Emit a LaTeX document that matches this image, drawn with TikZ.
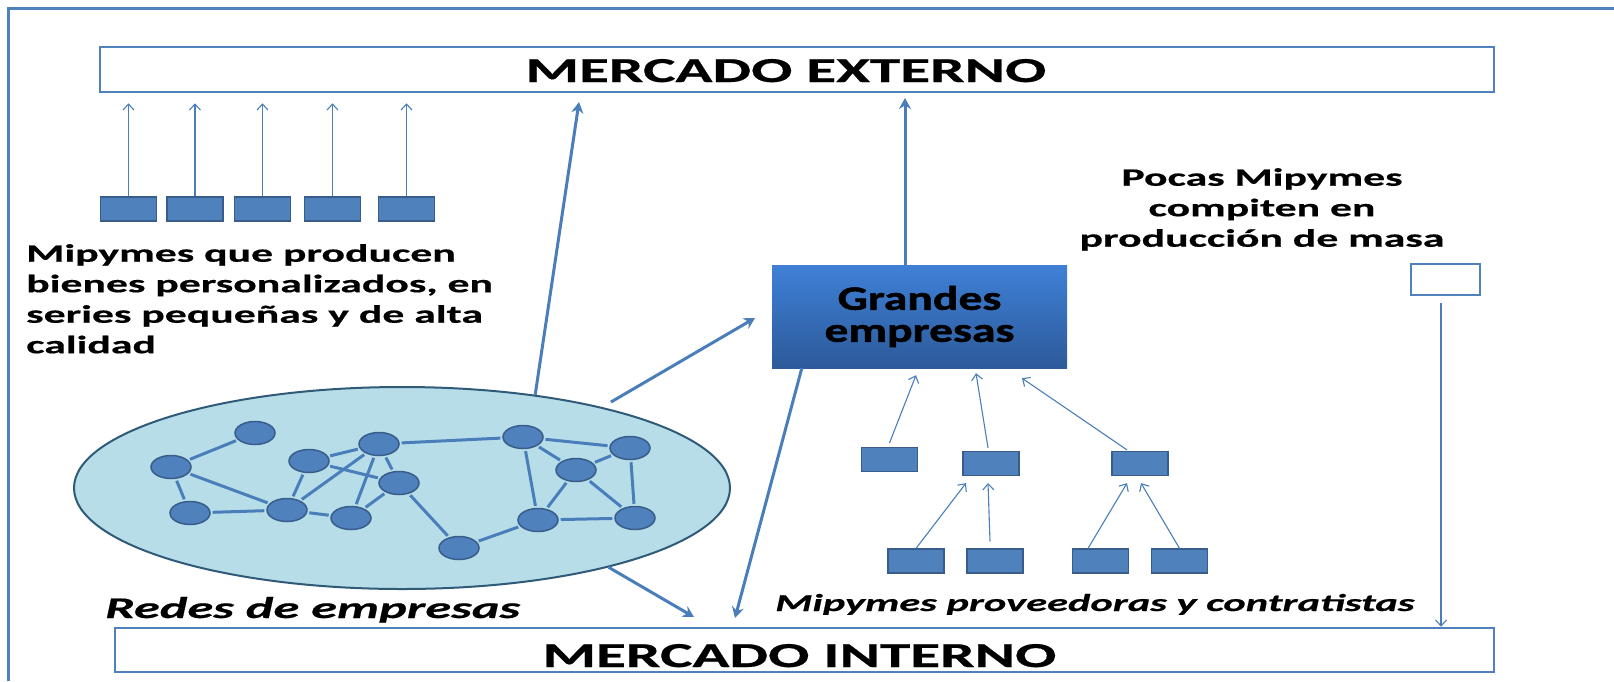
\documentclass[tikz,border=0pt]{standalone}
\usepackage{fontspec}
\setmainfont{Carlito}[FakeStretch=1.75,BoldFeatures={FakeBold=0.6},BoldItalicFeatures={FakeBold=0.6}]
\newfontfamily\grandfont{Carlito}[FakeStretch=1.4,FakeBold=1.6]
\usetikzlibrary{arrows.meta,shapes.geometric}
\definecolor{lineblue}{HTML}{4A7EBB}
\definecolor{boxblue}{HTML}{4F81BD}
\definecolor{edgeblue}{HTML}{385D8A}
\definecolor{netfill}{HTML}{B7DEE8}
\definecolor{netline}{HTML}{2F5A78}
\definecolor{gtop}{HTML}{3F80D6}
\definecolor{gbot}{HTML}{2C5A9A}

\begin{document}
\begin{tikzpicture}[x=1pt,y=-1pt,
    market/.style={draw=boxblue,line width=2.5pt,inner sep=0pt,font=\fontsize{35}{40}\selectfont\bfseries},
    mipyme/.style={draw=edgeblue,fill=boxblue,line width=1.2pt,minimum width=56pt,minimum height=24pt,inner sep=0pt},
    firm/.style={ellipse,draw=edgeblue,fill=boxblue,line width=1.5pt,minimum width=40pt,minimum height=23pt,inner sep=0pt},
    link/.style={lineblue,line width=3pt,shorten <=2pt,shorten >=2pt},
    feed/.style={lineblue,line width=1.1pt,-{Straight Barb[length=6pt,width=11pt]}},
    flow/.style={lineblue,line width=3pt,-{Stealth[length=11pt,width=12pt]}},
    note/.style={inner sep=0pt,font=\fontsize{25}{30.5}\selectfont\bfseries}]
\useasboundingbox (0,0) rectangle (1614,681);
\draw [boxblue,line width=3pt] (1614,8) -- (8,8) -- (8,681);

\node [market,minimum width=1394pt,minimum height=45pt,text height=25pt,text depth=0pt] (ext) at (797,69.5) {\hspace*{-22pt}MERCADO EXTERNO};
\node [market,minimum width=1379pt,minimum height=44pt,text height=34pt,text depth=0pt] (int) at (804.5,650) {\hspace*{-10pt}MERCADO INTERNO};

\node [mipyme] (s1) at (128.5,209) {};
\node [mipyme] (s2) at (195,209) {};
\node [mipyme] (s3) at (262.5,209) {};
\node [mipyme] (s4) at (332.5,209) {};
\node [mipyme] (s5) at (406.5,209) {};
\foreach \s in {s1,s2,s3,s4,s5}
  \draw [feed] (\s.north) -- ([yshift=-10pt]\s.north |- ext.south);
\node [note,align=left,anchor=north west] (mtxt) at (26,244) {Mipymes que producen\\bienes personalizados, en\\series pequeñas y de alta\\calidad};

\node [ellipse,draw=netline,fill=netfill,line width=2pt,minimum width=656pt,minimum height=202pt] (net) at (402,488) {};
\node [firm] (c1) at (171,467) {};
\node [firm] (c2) at (255,433) {};
\node [firm] (c3) at (190,513) {};
\node [firm] (c4) at (309,461) {};
\node [firm] (c5) at (379,444) {};
\node [firm] (c6) at (287,510) {};
\node [firm] (c7) at (351,518) {};
\node [firm] (c8) at (399,483) {};
\node [firm] (c9) at (459,548) {};
\node [firm] (c10) at (523,437) {};
\node [firm] (c11) at (630,448) {};
\node [firm] (c12) at (576,470) {};
\node [firm] (c13) at (538,520) {};
\node [firm] (c14) at (635,518) {};
\draw [link] (c1) -- (c2);
\draw [link] (c1) -- (c3);
\draw [link] (c1) -- (c6);
\draw [link] (c3) -- (c6);
\draw [link] (c6) -- (c4);
\draw [link] (c6) -- (c5);
\draw [link] (c6) -- (c7);
\draw [link] (c4) -- (c5);
\draw [link] (c4) -- (c8);
\draw [link] (c7) -- (c5);
\draw [link] (c7) -- (c8);
\draw [link] (c5) -- (c8);
\draw [link] (c8) -- (c9);
\draw [link] (c5) -- (c10);
\draw [link] (c9) -- (c13);
\draw [link] (c10) -- (c13);
\draw [link] (c10) -- (c12);
\draw [link] (c10) -- (c11);
\draw [link] (c12) -- (c11);
\draw [link] (c12) -- (c13);
\draw [link] (c12) -- (c14);
\draw [link] (c11) -- (c14);
\draw [link] (c13) -- (c14);
\node [anchor=base west,inner sep=0pt,font=\fontsize{30}{36}\selectfont\bfseries\itshape] (rtxt) at (105,618) {Redes de empresas};

\node [top color=gtop,bottom color=gbot,minimum width=295pt,minimum height=103pt,align=center,inner sep=0pt,
       font=\grandfont\fontsize{34}{32}\selectfont\bfseries] (big) at (919.5,316.5) {Grandes\\empresas};

\coordinate (t1) at (579,102);
\coordinate (t2) at (755,318);
\coordinate (t3) at (694,617);
\coordinate (t4) at (735,618);
\coordinate (t5) at (905,98);
\draw [flow] (net.35) -- (t1);
\draw [flow,shorten <=10pt] (net.22) -- (t2);
\draw [flow] (net.-21) -- (t3);
\draw [flow] ([xshift=30pt]big.south west) -- (t4);
\draw [flow] (big.north -| t5) -- (t5);

\node [mipyme] (m1) at (889.5,459.5) {};
\node [mipyme] (m2) at (991,463.5) {};
\node [mipyme] (m3) at (1140,463.5) {};
\node [mipyme] (b1) at (916,561) {};
\node [mipyme] (b2) at (995,561) {};
\node [mipyme] (b3) at (1100.5,561) {};
\node [mipyme] (b4) at (1179.5,561) {};
\draw [feed] ([yshift=4pt]m1.north) -- ([xshift=-3.5pt,yshift=-7pt]big.south);
\draw [feed] ([xshift=-3pt,yshift=3pt]m2.north) -- ([xshift=56.5pt,yshift=-5pt]big.south);
\draw [feed] ([xshift=-13pt,yshift=1pt]m3.north) -- ([xshift=102.5pt,yshift=-10pt]big.south);
\draw [feed] (b1.north) -- ([xshift=-25pt,yshift=-7pt]m2.south);
\draw [feed] ([xshift=-5pt,yshift=7pt]b2.north) -- ([xshift=-3pt,yshift=-7pt]m2.south);
\draw [feed] ([xshift=-12.5pt]b3.north) -- ([xshift=-13pt,yshift=-7pt]m3.south);
\draw [feed] (b4.north) -- ([xshift=1pt,yshift=-7pt]m3.south);
\node [anchor=base west,inner sep=0pt,font=\fontsize{24.3}{30}\selectfont\bfseries\itshape] (ptxt) at (775,611) {Mipymes proveedoras y contratistas};

\node [note,align=center,anchor=north] (ctxt) at (1262,168) {Pocas Mipymes\\compiten en\\producción de masa};
\node [draw=boxblue,line width=2.5pt,minimum width=69pt,minimum height=31pt,inner sep=0pt] (w) at (1445.5,279.5) {};
\draw [feed] ([xshift=-4.5pt,yshift=-7pt]w.south) -- ([xshift=-4.5pt]w.south |- int.north);
\end{tikzpicture}
\end{document}
